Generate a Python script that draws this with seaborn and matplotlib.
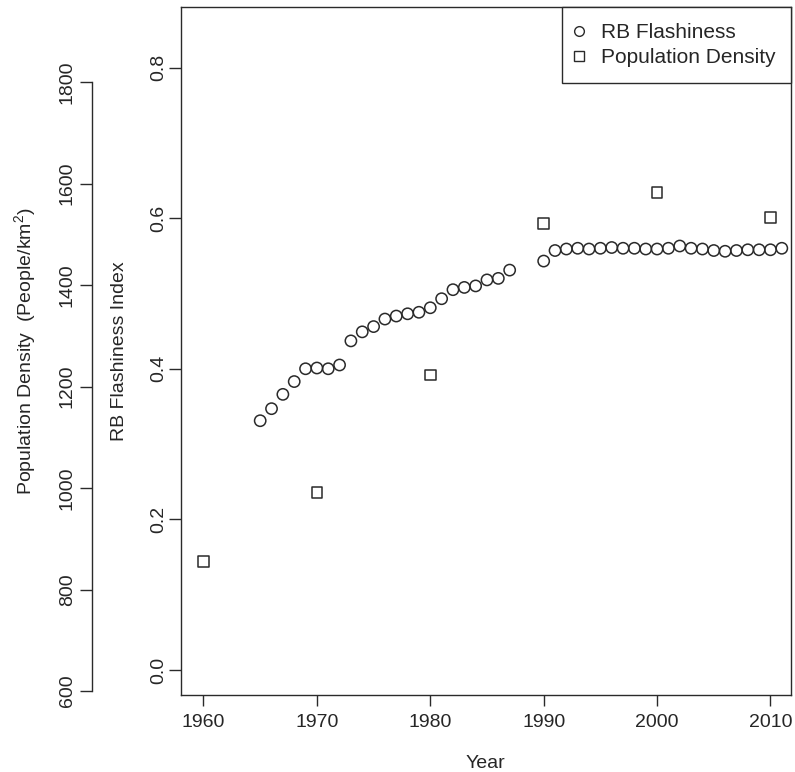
import numpy as np
import pandas as pd
import matplotlib
matplotlib.use("Agg")
import matplotlib.pyplot as plt
import seaborn as sns
from matplotlib.lines import Line2D

# ---- data ----
rb_years = [1965, 1966, 1967, 1968, 1969, 1970, 1971, 1972, 1973, 1974, 1975, 1976,
            1977, 1978, 1979, 1980, 1981, 1982, 1983, 1984, 1985, 1986, 1987,
            1990, 1991, 1992, 1993, 1994, 1995, 1996, 1997, 1998, 1999, 2000,
            2001, 2002, 2003, 2004, 2005, 2006, 2007, 2008, 2009, 2010, 2011]
rb_flashiness = [0.331, 0.347, 0.366, 0.383, 0.400, 0.401, 0.400, 0.405, 0.437, 0.449,
                 0.456, 0.466, 0.470, 0.473, 0.475, 0.481, 0.493, 0.505, 0.508, 0.510,
                 0.518, 0.520, 0.531,
                 0.543, 0.557, 0.559, 0.560, 0.559, 0.560, 0.561, 0.560, 0.560, 0.559,
                 0.559, 0.560, 0.563, 0.560, 0.559, 0.557, 0.556, 0.557, 0.558, 0.558,
                 0.558, 0.560]
pop_years = [1960, 1970, 1980, 1990, 2000, 2010]
pop_density = [855, 992, 1223, 1522, 1583, 1533]

x_ticks = [1960, 1970, 1980, 1990, 2000, 2010]
rb_ticks = [0.0, 0.2, 0.4, 0.6, 0.8]
pop_ticks = [600, 800, 1000, 1200, 1400, 1600, 1800]

rb_df = pd.DataFrame({"Year": rb_years, "RB": rb_flashiness})
pop_df = pd.DataFrame({"Year": pop_years, "Pop": pop_density})

# ---- style ----
sns.set_style("ticks")
plt.rcParams["font.family"] = ["Liberation Sans", "DejaVu Sans"]
plt.rcParams["axes.linewidth"] = 1.0
plt.rcParams["mathtext.fontset"] = "custom"
plt.rcParams["mathtext.rm"] = "Liberation Sans"
FS = 14
EC = "#2a2a2a"

fig = plt.figure(figsize=(7.95, 7.72), dpi=100)
ax = fig.add_axes([180.7 / 795, 1 - 695 / 772, (791 - 180.7) / 795, (695 - 7.5) / 772])

sns.scatterplot(data=rb_df, x="Year", y="RB", ax=ax, marker="o", s=66,
                facecolor="none", edgecolor=EC, linewidth=1.1, zorder=3)

ax.set_xlim(1957.99, 2011.81)
ax.set_ylim(-0.0332, 0.8797)
ax.set_xticks(x_ticks)
ax.set_xticklabels([str(t) for t in x_ticks])
ax.set_yticks(rb_ticks)
ax.set_yticklabels([f"{t:.1f}" for t in rb_ticks])
ax.tick_params(axis="x", length=8, width=1, pad=5.5, labelsize=FS, color=EC)
ax.tick_params(axis="y", length=8.5, width=1, pad=1.5, labelsize=FS, color=EC,
               labelrotation=90)
for lab in ax.get_yticklabels():
    lab.set_va("center")
for sp in ax.spines.values():
    sp.set_visible(True)
    sp.set_color(EC)
ax.set_xlabel("Year", fontsize=FS)
ax.set_ylabel("RB Flashiness Index", fontsize=FS)
ax.xaxis.set_label_coords(0.5, -0.088)
ax.yaxis.set_label_coords(-0.0864, 0.5)

# ---- secondary axis (population density) ----
ax2 = ax.twinx()
sns.scatterplot(data=pop_df, x="Year", y="Pop", ax=ax2, marker="s", s=60,
                facecolor="none", edgecolor=EC, linewidth=1.1, zorder=3)
ax2.set_ylim(592.1, 1947.4)
ax2.set_xlim(1957.99, 2011.81)
ax2.yaxis.tick_left()
ax2.yaxis.set_label_position("left")
for name in ["top", "right", "bottom"]:
    ax2.spines[name].set_visible(False)
ax2.spines["left"].set_visible(True)
ax2.spines["left"].set_position(("outward", (180.7 - 91.7) * 0.72))
ax2.spines["left"].set_bounds(600, 1800)
ax2.spines["left"].set_color(EC)
ax2.set_yticks(pop_ticks)
ax2.set_yticklabels([str(t) for t in pop_ticks])
ax2.tick_params(axis="y", length=9, width=1, pad=2.5, labelsize=FS, color=EC,
                labelrotation=90, left=True, right=False, labelleft=True, labelright=False)
for lab in ax2.get_yticklabels():
    lab.set_va("center")
ax2.set_ylabel("Population Density  (People/km$^{2}$)", fontsize=FS)
ax2.yaxis.set_label_coords(-0.233, 0.5)

# ---- legend ----
handles = [
    Line2D([], [], linestyle="none", marker="o", markersize=7, markerfacecolor="none",
           markeredgecolor=EC, markeredgewidth=1.0, label="RB Flashiness"),
    Line2D([], [], linestyle="none", marker="s", markersize=6.5, markerfacecolor="none",
           markeredgecolor=EC, markeredgewidth=1.0, label="Population Density"),
]
leg = ax2.legend(handles=handles, loc="upper right", bbox_to_anchor=(1.0, 1.0),
                 borderaxespad=0, fancybox=False, frameon=True, fontsize=15,
                 handlelength=0.1, handletextpad=1.0, borderpad=0.75, labelspacing=0.3)
leg.get_frame().set_edgecolor(EC)
leg.get_frame().set_linewidth(1.0)
leg.get_frame().set_alpha(1)

fig.savefig("out.png", dpi=100)
